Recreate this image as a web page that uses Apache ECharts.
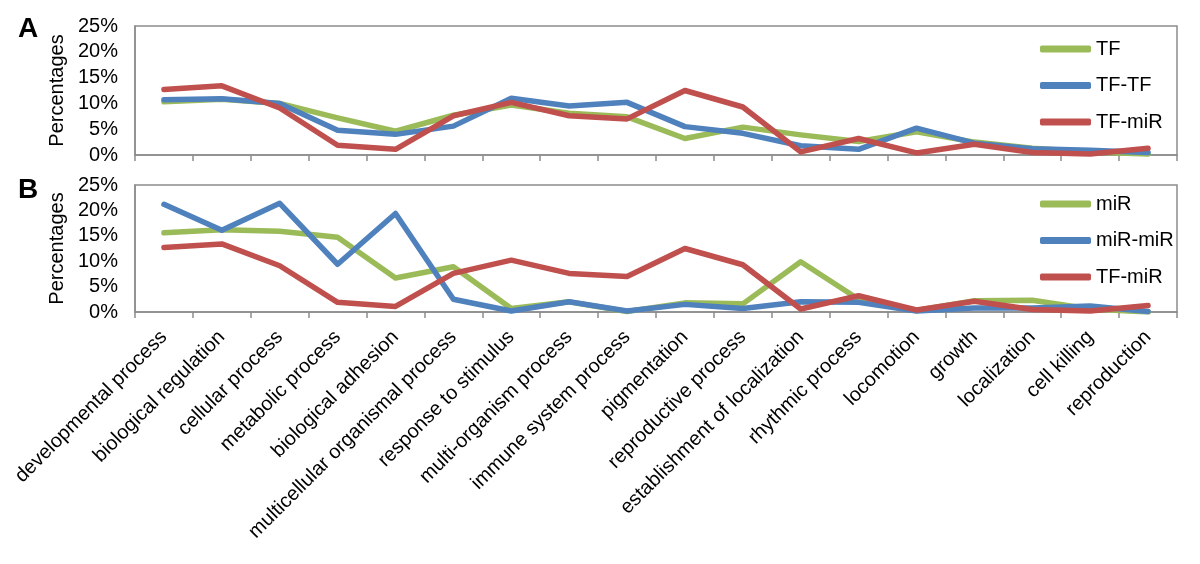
<!DOCTYPE html>
<html>
<head>
<meta charset="utf-8">
<script src="https://cdn.jsdelivr.net/npm/echarts@6/dist/echarts.min.js"></script>
<style>
html,body{margin:0;padding:0;background:#fff;}
#chart{width:1200px;height:564px;}
</style>
</head>
<body>
<div id="chart"></div>
<script>
const categories = [
  "developmental process", "biological regulation", "cellular process", "metabolic process",
  "biological adhesion", "multicellular organismal process", "response to stimulus",
  "multi-organism process", "immune system process", "pigmentation", "reproductive process",
  "establishment of localization", "rhythmic process", "locomotion", "growth",
  "localization", "cell killing", "reproduction"
];
const yTicks = [0, 5, 10, 15, 20, 25];
const tf     = [10.3, 10.8, 10.0, 7.2, 4.6, 7.7, 9.7, 8.1, 7.4, 3.2, 5.4, 3.9, 2.6, 4.5, 2.5, 1.3, 0.6, 0.2];
const tfTf   = [10.7, 10.9, 10.0, 4.8, 4.0, 5.6, 11.0, 9.5, 10.2, 5.5, 4.2, 1.8, 1.1, 5.2, 2.3, 1.2, 0.9, 0.5];
const tfMir  = [12.7, 13.4, 9.1, 1.9, 1.1, 7.6, 10.2, 7.6, 7.0, 12.5, 9.3, 0.6, 3.2, 0.4, 2.1, 0.5, 0.2, 1.3];
const mir    = [15.6, 16.2, 15.9, 14.7, 6.7, 8.9, 0.7, 2.0, 0.1, 1.8, 1.6, 9.9, 2.5, 0.3, 2.2, 2.3, 0.6, 0.0];
const mirMir = [21.2, 16.1, 21.4, 9.4, 19.4, 2.5, 0.2, 2.0, 0.2, 1.5, 0.7, 2.0, 1.9, 0.2, 0.8, 0.8, 1.2, 0.1];

const GREEN = '#9BBB59', BLUE = '#4F81BD', RED = '#C0504D', AXIS = '#8C8C8C';
const FONT = 'Liberation Sans, Arial, sans-serif';

function yAxis(idx) {
  return {
    type: 'value', gridIndex: idx, min: yTicks[0], max: yTicks[yTicks.length - 1], interval: 5,
    name: 'Percentages', nameLocation: 'middle', nameRotate: 90, nameGap: 66,
    nameTextStyle: { fontFamily: FONT, fontSize: 20, color: '#000' },
    axisLine: { show: true, lineStyle: { color: AXIS, width: 1.5 } },
    axisTick: { show: false },
    splitLine: { show: false },
    axisLabel: { formatter: '{value}%', fontFamily: FONT, fontSize: 20, color: '#000', margin: 17 }
  };
}
function xAxis(idx, showLabels) {
  return {
    type: 'category', gridIndex: idx, data: categories, boundaryGap: true,
    axisLine: { lineStyle: { color: AXIS, width: 1.5 } },
    axisTick: { show: true, interval: 0, length: 6, lineStyle: { color: AXIS, width: 1.5 } },
    axisLabel: showLabels ? { show: true, rotate: 45, interval: 0, fontFamily: FONT, fontSize: 20, color: '#000', margin: 22 } : { show: false, interval: 0 }
  };
}
function line(name, data, color, idx) {
  return {
    name: name, type: 'line', data: data, xAxisIndex: idx, yAxisIndex: idx,
    symbol: 'none', smooth: false, color: color,
    lineStyle: { color: color, width: 5.5, cap: 'round', join: 'round' },
    emphasis: { disabled: true }, animation: false
  };
}
function legend(names, top) {
  return {
    data: names, orient: 'vertical', left: 1035, top: top,
    icon: 'roundRect', itemWidth: 51, itemHeight: 7, itemGap: 16.5,
    textStyle: { fontFamily: FONT, fontSize: 20, color: '#000', lineHeight: 20 },
    selectedMode: false
  };
}

const chart = echarts.init(document.getElementById('chart'), null, { renderer: 'canvas' });
chart.setOption({
  animation: false,
  backgroundColor: '#fff',
  grid: [
    { left: 135, right: 23, top: 26, height: 129, show: true, borderColor: AXIS, borderWidth: 1.5 },
    { left: 135, right: 23, top: 185, height: 127, show: true, borderColor: AXIS, borderWidth: 1.5 }
  ],
  xAxis: [xAxis(0, false), xAxis(1, true)],
  yAxis: [yAxis(0), yAxis(1)],
  legend: [legend(['TF', 'TF-TF', 'TF-miR'], 34), legend(['miR', 'miR-miR', 'TF-miR'], 189)],
  graphic: [
    { type: 'text', left: 18, top: 15, style: { text: 'A', font: 'bold 28px ' + FONT, fill: '#000' } },
    { type: 'text', left: 18, top: 176, style: { text: 'B', font: 'bold 28px ' + FONT, fill: '#000' } }
  ],
  series: [
    line('TF', tf, GREEN, 0),
    line('TF-TF', tfTf, BLUE, 0),
    line('TF-miR', tfMir, RED, 0),
    line('miR', mir, GREEN, 1),
    line('miR-miR', mirMir, BLUE, 1),
    line('TF-miR', tfMir, RED, 1)
  ]
});
</script>
</body>
</html>
